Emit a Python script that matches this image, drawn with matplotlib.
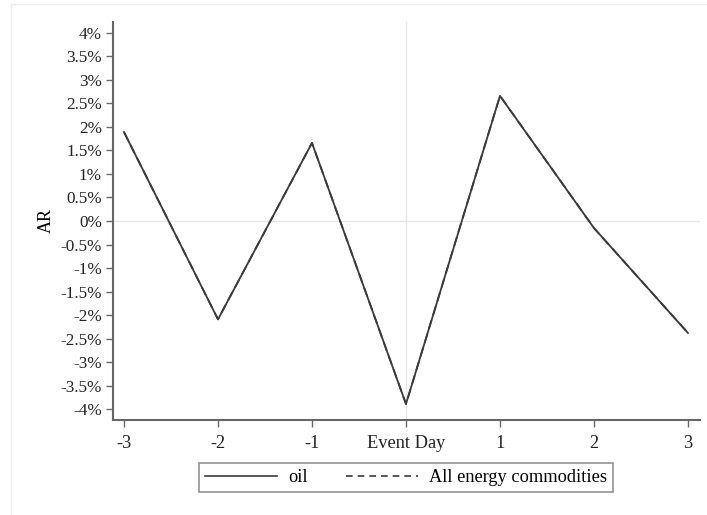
import matplotlib
matplotlib.use("Agg")
import matplotlib.pyplot as plt
from matplotlib.lines import Line2D

days = [-3, -2, -1, 0, 1, 2, 3]
day_labels = ["-3", "-2", "-1", "Event Day", "1", "2", "3"]
oil = [1.89, -2.09, 1.66, -3.89, 2.66, -0.15, -2.38]
all_energy = [1.89, -2.09, 1.66, -3.89, 2.66, -0.15, -2.38]
yticks = [-4, -3.5, -3, -2.5, -2, -1.5, -1, -0.5, 0, 0.5, 1, 1.5, 2, 2.5, 3, 3.5, 4]

plt.rcParams['font.family'] = ['Liberation Serif', 'DejaVu Serif']

fig = plt.figure(figsize=(7.07, 5.15), dpi=100)
ax = fig.add_axes([113/707, 1-420/515, (700-113)/707, (420-22)/515])

ax.axhline(0, color="#e6e6e6", lw=1, zorder=0)
ax.axvline(0, color="#e6e6e6", lw=1, zorder=0)
ax.plot(days, all_energy, color="#3a3a3a", lw=1.3, ls=(0, (5, 3)), zorder=2)
ax.plot(days, oil, color="#3a3a3a", lw=1.3, zorder=3)

ax.set_xlim(-3.117, 3.128)
ax.set_ylim(-4.23, 4.23)
ax.set_xticks(days)
ax.set_xticklabels(day_labels, fontsize=13.2)
ax.set_yticks(yticks)
ax.set_yticklabels([f"{v:g}%" for v in yticks], fontsize=12.3)
ax.set_ylabel("AR", fontsize=13, labelpad=4)

for s in ["top", "right"]:
    ax.spines[s].set_visible(False)
for s in ["left", "bottom"]:
    ax.spines[s].set_color("#666666")
    ax.spines[s].set_linewidth(1.5)
ax.tick_params(axis="both", colors="#666666", labelcolor="#222222", length=5, width=1)
ax.tick_params(axis="x", pad=6)
ax.tick_params(axis="y", pad=3)

handles = [Line2D([], [], color="#3a3a3a", lw=1.2),
           Line2D([], [], color="#3a3a3a", lw=1.2, ls=(0, (4, 3)))]
leg = fig.legend(handles, ["oil", "All energy commodities"], loc="center",
                 bbox_to_anchor=(406/707, 1-477.5/515), ncol=2, fontsize=13.2,
                 frameon=True, fancybox=False, handlelength=3.9, handletextpad=0.6,
                 columnspacing=2.1, borderpad=0.35, borderaxespad=0,
                 edgecolor="#777777")
leg.get_frame().set_linewidth(1.2)

fig.add_artist(Line2D([11/707, 11/707], [0, 1-4/515], color="#eeeeee", lw=1))
fig.add_artist(Line2D([11/707, 1], [1-4/515, 1-4/515], color="#eeeeee", lw=1))

fig.savefig("out.png", dpi=100)
